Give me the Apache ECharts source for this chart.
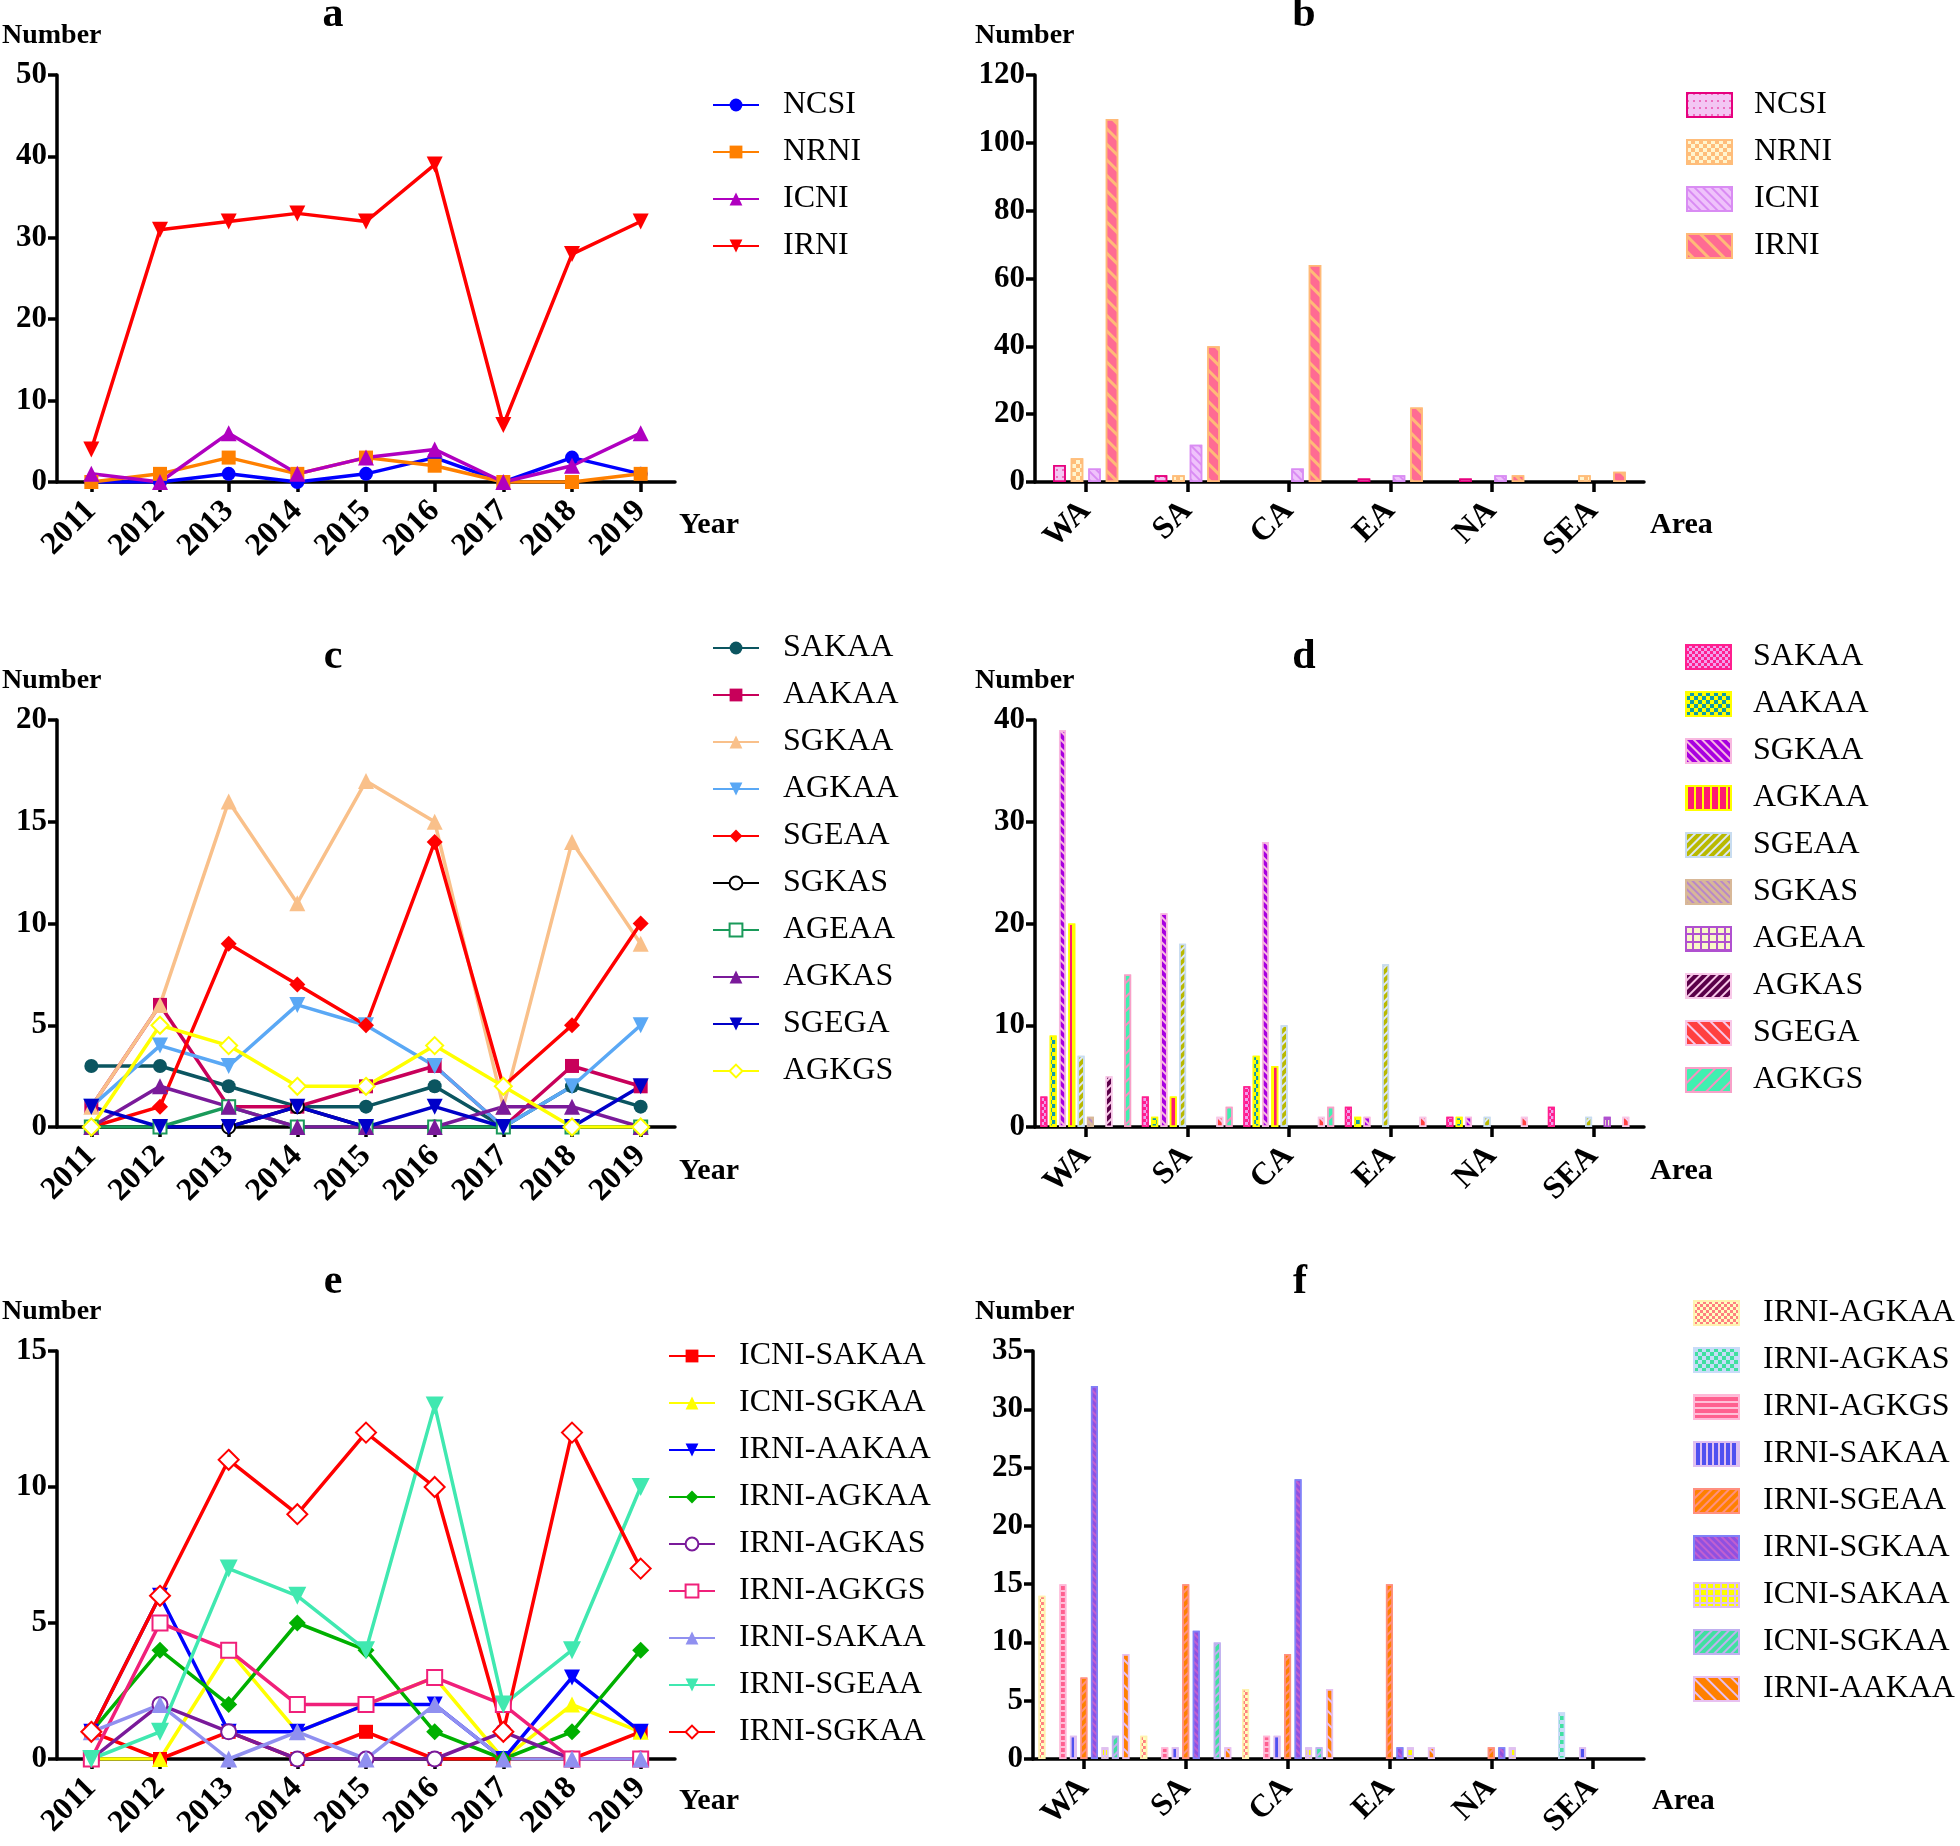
<!DOCTYPE html>
<html><head><meta charset="utf-8">
<script src="https://cdn.jsdelivr.net/npm/echarts@6/dist/echarts.min.js"></script>
<style>html,body{margin:0;padding:0;background:#fff}#c{width:1960px;height:1846px}</style>
</head><body><div id="c"></div>
<script>
// ---------- categories ----------
const years = ['2011','2012','2013','2014','2015','2016','2017','2018','2019'];
const areas = ['WA','SA','CA','EA','NA','SEA'];

// ---------- panel a (by year) ----------
const aNCSI = [0,0,1,0,1,3,0,3,1];
const aNRNI = [0,1,3,1,3,2,0,0,1];
const aICNI = [1,0,6,1,3,4,0,2,6];
const aIRNI = [4,31,32,33,32,39,7,28,32];

// ---------- panel b (by area) ----------
const bNCSI = [5,2,0,1,1,0];
const bNRNI = [7,2,0,0,0,2];
const bICNI = [4,11,4,2,2,0];
const bIRNI = [107,40,64,22,2,3];

// ---------- panel c (by year) ----------
const cSAKAA = [3,3,2,1,1,2,0,2,1];
const cAAKAA = [1,6,1,1,2,3,0,3,2];
const cSGKAA = [1,6,16,11,17,15,1,14,9];
const cAGKAA = [1,4,3,6,5,3,0,2,5];
const cSGEAA = [0,1,9,7,5,14,2,5,10];
const cSGKAS = [0,0,0,1,0,0,0,0,0];
const cAGEAA = [0,0,1,0,0,0,0,0,0];
const cAGKAS = [0,2,1,0,0,0,1,1,0];
const cSGEGA = [1,0,0,1,0,1,0,0,2];
const cAGKGS = [0,5,4,2,2,4,2,0,0];

// ---------- panel d (by area) ----------
const dSAKAA = [3,3,4,2,1,2];
const dAAKAA = [9,1,7,1,1,0];
const dSGKAA = [39,21,28,1,1,0];
const dAGKAA = [20,3,6,0,0,0];
const dSGEAA = [7,18,10,16,1,1];
const dSGKAS = [1,0,0,0,0,0];
const dAGEAA = [0,0,0,0,0,1];
const dAGKAS = [5,0,0,0,0,0];
const dSGEGA = [0,1,1,1,1,1];
const dAGKGS = [15,2,2,0,0,0];

// ---------- panel e (by year) ----------
const eICNI_SAKAA = [1,0,1,0,1,0,0,0,1];
const eICNI_SGKAA = [0,0,4,1,2,3,0,2,1];
const eIRNI_AAKAA = [1,6,1,1,2,2,0,3,1];
const eIRNI_AGKAA = [1,4,2,5,4,1,0,1,4];
const eIRNI_AGKAS = [0,2,1,0,0,0,1,0,0];
const eIRNI_AGKGS = [0,5,4,2,2,3,2,0,0];
const eIRNI_SAKAA = [1,2,0,1,0,2,0,0,0];
const eIRNI_SGEAA = [0,1,7,6,4,13,2,4,10];
const eIRNI_SGKAA = [1,6,11,9,12,10,1,12,7];

// ---------- panel f (by area) ----------
const fIRNI_AGKAA = [14,2,6,0,0,0];
const fIRNI_AGKAS = [0,0,0,0,0,4];
const fIRNI_AGKGS = [15,1,2,0,0,0];
const fIRNI_SAKAA = [2,1,2,0,0,1];
const fIRNI_SGEAA = [7,15,9,15,1,0];
const fIRNI_SGKAA = [32,11,24,1,1,0];
const fICNI_SAKAA = [1,0,1,1,1,0];
const fICNI_SGKAA = [2,10,1,0,0,0];
const fIRNI_AAKAA = [9,1,6,1,0,0];

// ---------- styling helpers ----------
const FONT = '"Liberation Serif", "Times New Roman", serif';
const DOWN = 'path://M0,0L10,0L5,9Z';
const Q = Math.PI / 4;
const stripes = (color, w, g, rot) => ({symbol:'rect', symbolSize:1, color, dashArrayX:[1,0], dashArrayY:[w,g], rotation:rot});
const vstripes = (color, w, g) => ({symbol:'rect', symbolSize:1, color, dashArrayX:[w,g], dashArrayY:[1,0], rotation:0});
const checker = (color, s) => ({symbol:'rect', symbolSize:1, color, dashArrayX:[[s,s],[0,s,s,0]], dashArrayY:[s,0], rotation:0});
const squares = (color, s, g) => ({symbol:'rect', symbolSize:1, color, dashArrayX:[s,g], dashArrayY:[s,g], rotation:0});
const dots = (color) => ({symbol:'circle', symbolSize:0.8, color, dashArrayX:[2,4], dashArrayY:[2,5], rotation:0});

const grids = [
  {left:57, top:75, width:618, height:407},
  {left:1035, top:75, width:609, height:407},
  {left:57, top:720, width:618, height:407},
  {left:1035, top:720, width:609, height:407},
  {left:57, top:1351, width:618, height:408},
  {left:1033, top:1351, width:611, height:408}
].map(g => Object.assign({containLabel:false, outerBoundsMode:'none'}, g));

const axisLine = {show:true, lineStyle:{color:'#000', width:3.5}};
const axisTickY = {show:true, length:9, lineStyle:{color:'#000', width:3.5}};
const axisTickX = {show:true, alignWithLabel:true, length:10, lineStyle:{color:'#000', width:3.5}};
const lblStyle = {fontFamily:FONT, fontWeight:'bold', fontSize:31, color:'#000'};

function xAx(i, cats) {
  return {type:'category', gridIndex:i, data:cats, boundaryGap:true, axisLine, axisTick:axisTickX,
    axisLabel:Object.assign({rotate:45, margin:24, interval:0}, lblStyle, {fontSize:32}), splitLine:{show:false}};
}
function yAx(i, max, step) {
  return {type:'value', gridIndex:i, min:0, max:max, interval:step, axisLine, axisTick:axisTickY,
    axisLabel:Object.assign({margin:10}, lblStyle), splitLine:{show:false}};
}

function line(panel, idx, name, data, color, symbol, size, empty) {
  return {type:'line', name: panel + '|' + name, data, xAxisIndex:idx, yAxisIndex:idx,
    symbol, symbolSize:size, showAllSymbol:true,
    lineStyle:{color, width:3.5}, itemStyle:{color, borderColor:color, borderWidth: empty ? 4 : 0}};
}
function bar(panel, idx, name, data, fill, border, decal, width, gap) {
  // zero counts draw no bar at all (as in the original figure)
  return {type:'bar', name: panel + '|' + name, data: data.map(v => v === 0 ? '-' : v),
    xAxisIndex:idx, yAxisIndex:idx, barWidth:width, barGap:gap,
    itemStyle:{color:fill, borderColor:border, borderWidth:1.5, decal}};
}

const series = [
  // a
  line('a',0,'NCSI',aNCSI,'#0000ff','circle',14),
  line('a',0,'NRNI',aNRNI,'#ff8000','rect',14),
  line('a',0,'ICNI',aICNI,'#b000c0','triangle',16),
  line('a',0,'IRNI',aIRNI,'#ff0000',DOWN,16),
  // b
  bar('b',1,'NCSI',bNCSI,'#f3c6f3','#e6007e',dots('#e6007e'),12.5,'40%'),
  bar('b',1,'NRNI',bNRNI,'#fff5cf','#ffbd7a',checker('#ffbd7a',4),12.5,'40%'),
  bar('b',1,'ICNI',bICNI,'#efc2fb','#d98cf3',stripes('#d98cf3',1.5,3.5,Q),12.5,'40%'),
  bar('b',1,'IRNI',bIRNI,'#ff6b93','#ffba78',stripes('#ffba78',3,8,Q),12.5,'40%'),
  // c
  line('c',2,'SAKAA',cSAKAA,'#0b5560','circle',14),
  line('c',2,'AAKAA',cAAKAA,'#c8005a','rect',14),
  line('c',2,'SGKAA',cSGKAA,'#f9c08a','triangle',16),
  line('c',2,'AGKAA',cAGKAA,'#5aa8f5',DOWN,16),
  line('c',2,'SGEAA',cSGEAA,'#ff0000','diamond',16),
  line('c',2,'SGKAS',cSGKAS,'#000000','emptyCircle',13,true),
  line('c',2,'AGEAA',cAGEAA,'#1a9a5a','emptyRect',13,true),
  line('c',2,'AGKAS',cAGKAS,'#7a1a9a','triangle',16),
  line('c',2,'SGEGA',cSGEGA,'#0000c8',DOWN,16),
  line('c',2,'AGKGS',cAGKGS,'#ffff00','emptyDiamond',17,true),
  // d
  bar('d',3,'SAKAA',dSAKAA,'#ff1f8f','#ff1f8f',checker('#f0a0ee',3),7,'33%'),
  bar('d',3,'AAKAA',dAAKAA,'#ffff00','#ffff00',checker('#0e9aa8',4),7,'33%'),
  bar('d',3,'SGKAA',dSGKAA,'#a800e0','#f8b8e0',stripes('#f8b8e0',1.5,4,Q),7,'33%'),
  bar('d',3,'AGKAA',dAGKAA,'#ff1a70','#ffff00',vstripes('#ffff00',1.5,6),7,'33%'),
  bar('d',3,'SGEAA',dSGEAA,'#b9b900','#c8dcf0',stripes('#dde8f5',2,4,-Q),7,'33%'),
  bar('d',3,'SGKAS',dSGKAS,'#d8b898','#d8b898',stripes('#b888c8',2,3,Q),7,'33%'),
  bar('d',3,'AGEAA',dAGEAA,'#b050d0','#b050d0',squares('#f8f8c8',6,1.5),7,'33%'),
  bar('d',3,'AGKAS',dAGKAS,'#f8c8e8','#f8c8e8',stripes('#5a0048',4,2,-Q),7,'33%'),
  bar('d',3,'SGEGA',dSGEGA,'#ff4040','#f8c8e8',stripes('#f8c8e8',2,7,Q),7,'33%'),
  bar('d',3,'AGKGS',dAGKGS,'#40f0b0','#f8a0c8',stripes('#f890c0',2,8,-Q),7,'33%'),
  // e
  line('e',4,'ICNI-SAKAA',eICNI_SAKAA,'#ff0000','rect',14),
  line('e',4,'ICNI-SGKAA',eICNI_SGKAA,'#ffff00','triangle',16),
  line('e',4,'IRNI-AAKAA',eIRNI_AAKAA,'#0000ff',DOWN,16),
  line('e',4,'IRNI-AGKAA',eIRNI_AGKAA,'#00b000','diamond',17),
  line('e',4,'IRNI-AGKAS',eIRNI_AGKAS,'#7a1a9a','emptyCircle',15,true),
  line('e',4,'IRNI-AGKGS',eIRNI_AGKGS,'#f0207a','emptyRect',15,true),
  line('e',4,'IRNI-SAKAA',eIRNI_SAKAA,'#9090f0','triangle',17),
  line('e',4,'IRNI-SGEAA',eIRNI_SGEAA,'#40e8b0',DOWN,18),
  line('e',4,'IRNI-SGKAA',eIRNI_SGKAA,'#ff0000','emptyDiamond',20,true),
  // f
  bar('f',5,'IRNI-AGKAA',fIRNI_AGKAA,'#ffffc0','#fff2b0',checker('#ff8080',3),7,'50%'),
  bar('f',5,'IRNI-AGKAS',fIRNI_AGKAS,'#c8dcf8','#c8dcf8',checker('#40e0a0',4),7,'50%'),
  bar('f',5,'IRNI-AGKGS',fIRNI_AGKGS,'#ff6090','#ffb8d8',stripes('#ffc0d8',1.5,4,0),7,'50%'),
  bar('f',5,'IRNI-SAKAA',fIRNI_SAKAA,'#5050f0','#e0c0f0',vstripes('#e0c0f0',1.5,4),7,'50%'),
  bar('f',5,'IRNI-SGEAA',fIRNI_SGEAA,'#ff8000','#ff9080',stripes('#ff9080',1.5,4,-Q),7,'50%'),
  bar('f',5,'IRNI-SGKAA',fIRNI_SGKAA,'#9050e0','#8080f8',stripes('#c060d0',2,3,Q),7,'50%'),
  bar('f',5,'ICNI-SAKAA',fICNI_SAKAA,'#e0c0f0','#e0c0f0',squares('#ffff00',5,1.5),7,'50%'),
  bar('f',5,'ICNI-SGKAA',fICNI_SGKAA,'#40e0a0','#c0b0f0',stripes('#c0b0f0',1.5,4,-Q),7,'50%'),
  bar('f',5,'IRNI-AAKAA',fIRNI_AAKAA,'#ff8000','#e8c0f0',stripes('#e8c0f0',2,7,Q),7,'50%')
];

function legendFor(panel, left, top, iw, ih, isBar, pad) {
  const names = series.filter(s => s.name.startsWith(panel + '|')).map(s => s.name);
  const lg = {data:names, left, top, orient:'vertical', itemWidth:iw, itemHeight:ih, itemGap:15,
    selectedMode:false, formatter: n => n.split('|')[1],
    textStyle:{fontFamily:FONT, fontSize:32, color:'#000', lineHeight:32, padding:[0,0,0,pad]}};
  if (isBar) { lg.icon = 'rect'; lg.itemStyle = {borderWidth:2}; }
  return lg;
}

const txt = (x, y, text, size, align) => ({type:'text', x, y,
  style:{text, font:'bold ' + size + 'px ' + FONT, fill:'#000', align: align || 'left', verticalAlign:'middle'}});

const option = {
  animation:false,
  backgroundColor:'#fff',
  grid: grids,
  xAxis: [xAx(0,years), xAx(1,areas), xAx(2,years), xAx(3,areas), xAx(4,years), xAx(5,areas)],
  yAxis: [yAx(0,50,10), yAx(1,120,20), yAx(2,20,5), yAx(3,40,10), yAx(4,15,5), yAx(5,35,5)],
  legend: [
    legendFor('a', 707, 84, 46, 16, false, 19),
    legendFor('b', 1681, 84, 45, 24, true, 17),
    legendFor('c', 707, 627, 46, 16, false, 19),
    legendFor('d', 1680, 636, 45, 24, true, 17),
    legendFor('e', 663, 1335, 46, 16, false, 19),
    legendFor('f', 1688, 1292, 45, 24, true, 19)
  ],
  graphic: [
    txt(2, 36, 'Number', 28), txt(333, 15, 'a', 42, 'center'), txt(679, 525, 'Year', 30),
    txt(975, 36, 'Number', 28), txt(1304, 15, 'b', 42, 'center'), txt(1650, 525, 'Area', 30),
    txt(2, 681, 'Number', 28), txt(333, 657, 'c', 42, 'center'), txt(679, 1171, 'Year', 30),
    txt(975, 681, 'Number', 28), txt(1304, 657, 'd', 42, 'center'), txt(1650, 1171, 'Area', 30),
    txt(2, 1312, 'Number', 28), txt(333, 1282, 'e', 42, 'center'), txt(679, 1801, 'Year', 30),
    txt(975, 1312, 'Number', 28), txt(1300, 1282, 'f', 42, 'center'), txt(1652, 1801, 'Area', 30)
  ],
  series
};

const chart = echarts.init(document.getElementById('c'), null, {renderer:'canvas'});
chart.setOption(option);
</script>
</body></html>
